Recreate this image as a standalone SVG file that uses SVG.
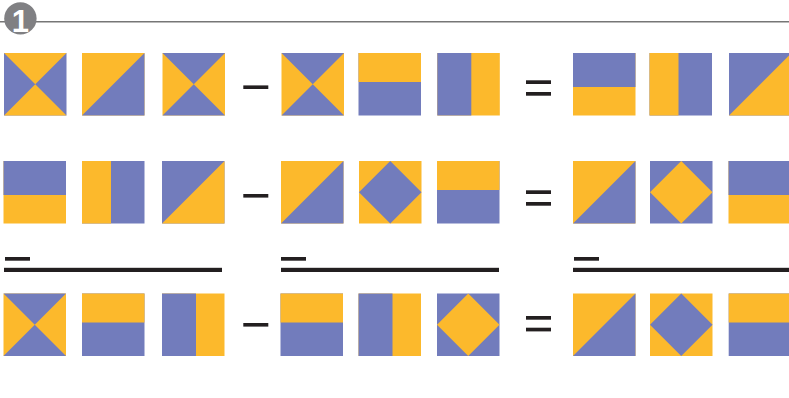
<svg xmlns="http://www.w3.org/2000/svg" xmlns:xlink="http://www.w3.org/1999/xlink" width="789" height="398" viewBox="0 0 789 398">
<style>
.y{fill:#FCB92C}
.b{fill:#727CBC}
.k{fill:#231F20}
.num{font-family:"Liberation Sans",Arial,sans-serif;font-weight:bold;font-size:31px;fill:#ffffff}
</style>
<defs>
<g id="hgY"><rect class="b" width="62.5" height="62.5"/><polygon class="y" points="0,0 62.5,0 31.25,31.25"/><polygon class="y" points="0,62.5 62.5,62.5 31.25,31.25"/></g>
<g id="hgB"><rect class="y" width="62.5" height="62.5"/><polygon class="b" points="0,0 62.5,0 31.25,31.25"/><polygon class="b" points="0,62.5 62.5,62.5 31.25,31.25"/></g>
<g id="dYB"><rect class="y" width="62.5" height="62.5"/><polygon class="b" points="0,62.5 62.5,0 62.5,62.5"/></g>
<g id="dBY"><rect class="b" width="62.5" height="62.5"/><polygon class="y" points="0,62.5 62.5,0 62.5,62.5"/></g>
<g id="hYB"><rect class="b" width="62.5" height="62.5"/><rect class="y" width="62.5" height="29"/></g>
<g id="hBY"><rect class="y" width="62.5" height="62.5"/><rect class="b" width="62.5" height="34"/></g>
<g id="vBY"><rect class="y" width="62.5" height="62.5"/><rect class="b" width="34" height="62.5"/></g>
<g id="vYB"><rect class="b" width="62.5" height="62.5"/><rect class="y" width="29" height="62.5"/></g>
<g id="mYB"><rect class="y" width="62.5" height="62.5"/><polygon class="b" points="31.25,0 62.5,31.25 31.25,62.5 0,31.25"/></g>
<g id="mBY"><rect class="b" width="62.5" height="62.5"/><polygon class="y" points="31.25,0 62.5,31.25 31.25,62.5 0,31.25"/></g>
<g id="minus"><rect class="k" width="25" height="3.6"/></g>
<g id="eq"><rect class="k" width="25" height="3.7"/><rect class="k" y="11.7" width="25" height="3.7"/></g>
</defs>

<g id="header">
<line x1="0" y1="21.8" x2="789" y2="21.8" stroke="#767676" stroke-width="1.4"/>
<circle cx="20.4" cy="18.4" r="16.2" fill="#808083"/>
<text class="num" x="20.4" y="31.5" text-anchor="middle">1</text>
</g>

<g id="row1">
<g id="r1t1"><use xlink:href="#hgY" x="4" y="53"/></g>
<g id="r1t2"><use xlink:href="#dYB" x="82" y="53"/></g>
<g id="r1t3"><use xlink:href="#hgB" x="162.5" y="53"/></g>
<g id="r1minus"><use xlink:href="#minus" x="243.3" y="85.4"/></g>
<g id="r1t4"><use xlink:href="#hgB" x="281.5" y="53"/></g>
<g id="r1t5"><use xlink:href="#hYB" x="358.5" y="53"/></g>
<g id="r1t6"><use xlink:href="#vBY" x="437.3" y="53"/></g>
<g id="r1eq"><use xlink:href="#eq" x="526" y="80.3"/></g>
<g id="r1t7"><use xlink:href="#hBY" x="573" y="53"/></g>
<g id="r1t8"><use xlink:href="#vYB" x="649.5" y="53"/></g>
<g id="r1t9"><use xlink:href="#dBY" x="729" y="53"/></g>
</g>

<g id="row2">
<g id="r2t1"><use xlink:href="#hBY" x="3.5" y="161"/></g>
<g id="r2t2"><use xlink:href="#vYB" x="82" y="161"/></g>
<g id="r2t3"><use xlink:href="#dBY" x="162" y="161"/></g>
<g id="r2minus"><use xlink:href="#minus" x="243.3" y="194"/></g>
<g id="r2t4"><use xlink:href="#dYB" x="281" y="161"/></g>
<g id="r2t5"><use xlink:href="#mYB" x="359" y="161"/></g>
<g id="r2t6"><use xlink:href="#hYB" x="437" y="161"/></g>
<g id="r2eq"><use xlink:href="#eq" x="526" y="190.3"/></g>
<g id="r2t7"><use xlink:href="#dYB" x="573" y="161"/></g>
<g id="r2t8"><use xlink:href="#mBY" x="650" y="161"/></g>
<g id="r2t9"><use xlink:href="#hBY" x="728.5" y="161"/></g>
</g>

<g id="bars">
<rect class="k" x="5" y="257" width="25" height="3.7"/>
<rect class="k" x="4" y="267.8" width="218" height="4.2"/>
<rect class="k" x="281" y="257" width="25" height="3.7"/>
<rect class="k" x="281" y="267.8" width="218" height="4.2"/>
<rect class="k" x="574" y="257" width="25" height="3.7"/>
<rect class="k" x="573" y="267.8" width="216" height="4.2"/>
</g>

<g id="row3">
<g id="r3t1"><use xlink:href="#hgB" x="3.5" y="293.5"/></g>
<g id="r3t2"><use xlink:href="#hYB" x="82" y="293.5"/></g>
<g id="r3t3"><use xlink:href="#vBY" x="162" y="293.5"/></g>
<g id="r3minus"><use xlink:href="#minus" x="243.3" y="323"/></g>
<g id="r3t4"><use xlink:href="#hYB" x="280.5" y="293.5"/></g>
<g id="r3t5"><use xlink:href="#vBY" x="358.5" y="293.5"/></g>
<g id="r3t6"><use xlink:href="#mBY" x="437" y="293.5"/></g>
<g id="r3eq"><use xlink:href="#eq" x="526" y="316"/></g>
<g id="r3t7"><use xlink:href="#dYB" x="573" y="293.5"/></g>
<g id="r3t8"><use xlink:href="#mYB" x="650" y="293.5"/></g>
<g id="r3t9"><use xlink:href="#hYB" x="728.7" y="293.5"/></g>
</g>
</svg>
